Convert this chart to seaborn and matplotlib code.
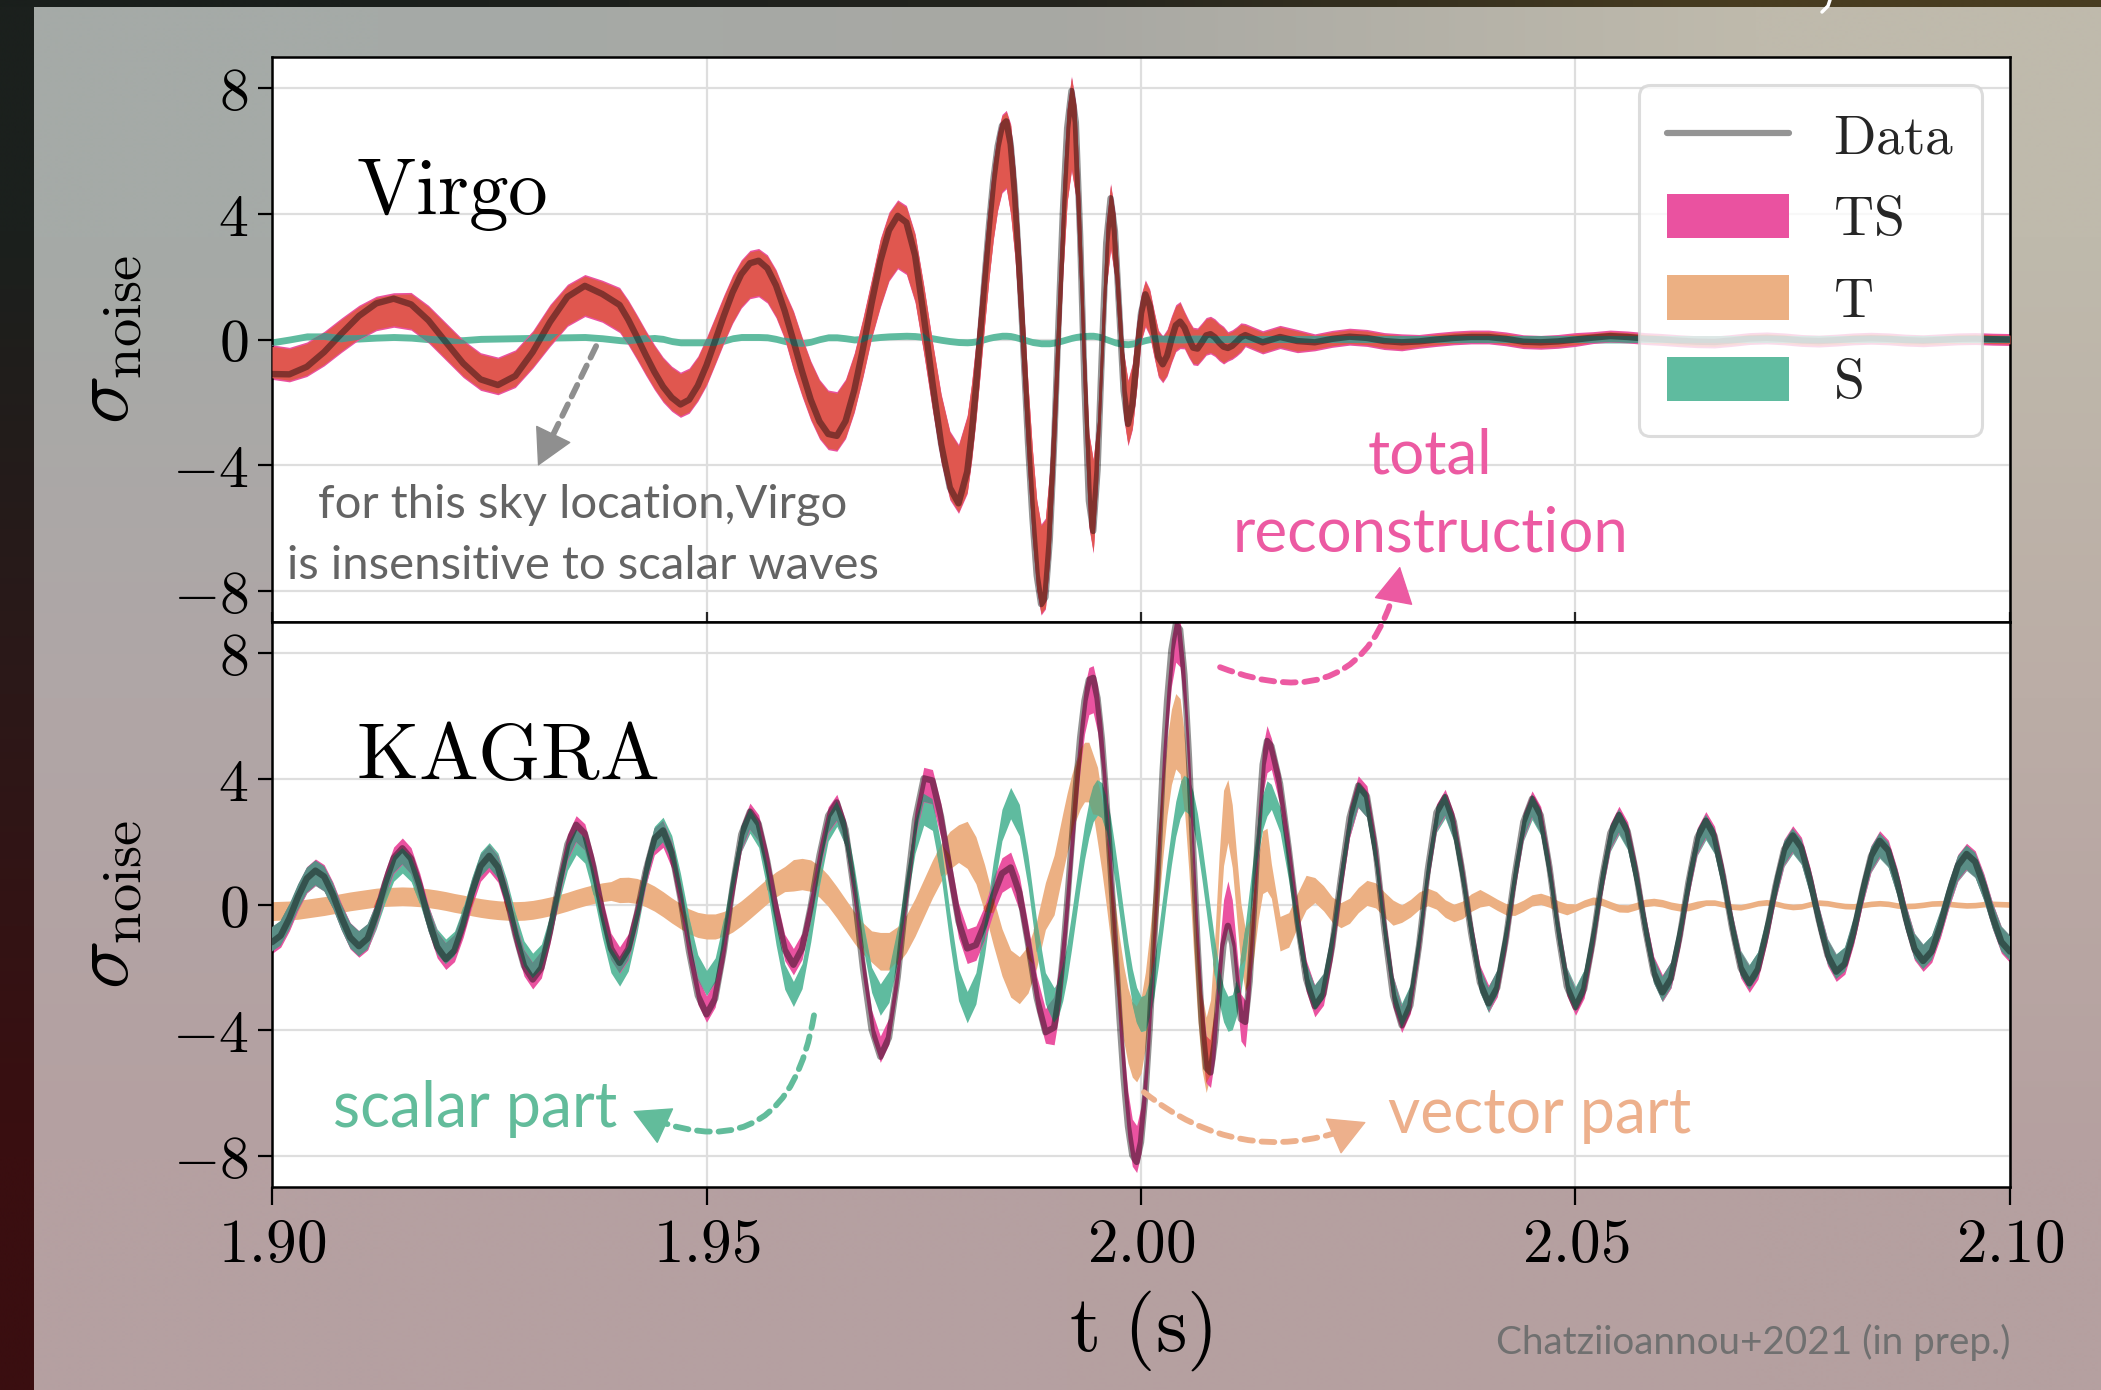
import numpy as np
import matplotlib
matplotlib.use("Agg")
import matplotlib.pyplot as plt
import seaborn as sns
from matplotlib.lines import Line2D
from matplotlib.patches import Patch

sns.set_theme(style="white")
plt.rcParams["mathtext.fontset"] = "cm"
plt.rcParams["font.family"] = ["Lato", "DejaVu Sans"]

# ------------------------------------------------------------------
# sampling times (s) of the digitised curves
t_virgo = np.round(np.concatenate([np.arange(1900, 1940, 2) / 1000,
                                   np.arange(1940, 1980) / 1000,
                                   np.arange(19800, 20120, 5) / 10000,
                                   np.arange(2012, 2101, 2) / 1000]), 4)
t_kagra = np.round(np.concatenate([np.arange(1900, 1990) / 1000,
                                   np.arange(19900, 20150, 5) / 10000,
                                   np.arange(2015, 2101) / 1000]), 4)

# ---------------- Virgo ----------------
virgo_data = [
    -1.10, -1.11, -0.87, -0.40, 0.19, 0.75, 1.15, 1.30, 1.12, 0.61,
    -0.08, -0.76, -1.27, -1.45, -1.16, -0.40, 0.56, 1.36, 1.71, 1.45,
    1.10, 0.63, 0.08, -0.49, -1.03, -1.50, -1.85, -2.07, -1.92, -1.47,
    -0.82, -0.04, 0.76, 1.50, 2.08, 2.43, 2.51, 2.27, 1.72, 0.91,
    -0.04, -1.02, -1.92, -2.61, -3.01, -3.07, -2.60, -1.62, -0.30, 1.16,
    2.49, 3.48, 3.94, 3.73, 2.68, 0.75, -1.37, -3.33, -4.72, -5.22,
    -4.21, -3.04, -1.55, 0.17, 1.94, 3.62, 5.07, 6.15, 6.81, 6.95,
    6.23, 4.62, 2.25, -0.49, -3.30, -5.65, -7.52, -8.43, -8.21, -6.39,
    -3.32, 0.46, 4.01, 6.73, 7.92, 6.92, 3.27, -1.48, -5.14, -6.10,
    -4.15, -0.43, 3.08, 4.50, 3.45, 0.91, -1.64, -2.69, -2.09, -0.63,
    0.84, 1.44, 1.08, 0.23, -0.56, -0.79, -0.52, 0.00, 0.45, 0.57,
    0.38, 0.03, -0.26, -0.29, -0.09, 0.13, 0.17, 0.07, -0.10, -0.23,
    -0.27, -0.20, -0.07, 0.07,
    0.14, -0.09, 0.08, -0.05, -0.09, 0.02, 0.09, 0.05, -0.05, -0.09,
    -0.06, 0.00, 0.05, 0.08, 0.08, 0.02, -0.07, -0.09, -0.06, 0.00,
    0.06, 0.11, 0.08, 0.03, 0.00, -0.04, -0.07, -0.08, -0.03, 0.03,
    0.05, 0.02, -0.03, -0.05, -0.02, 0.02, 0.04, 0.02, -0.02, -0.04,
    -0.01, 0.02, 0.03, 0.01, 0.00]
# centre of the TS / T credible bands (they coincide for Virgo)
virgo_tt_mid = [
    -0.72, -0.80, -0.63, -0.29, 0.14, 0.54, 0.83, 0.94, 0.90, 0.49,
    -0.06, -0.61, -1.02, -1.16, -0.93, -0.32, 0.45, 1.09, 1.40, 1.22,
    0.94, 0.54, 0.07, -0.42, -0.88, -1.28, -1.57, -1.76, -1.63, -1.25,
    -0.70, -0.03, 0.65, 1.28, 1.77, 2.07, 2.13, 1.93, 1.46, 0.77,
    -0.03, -0.87, -1.63, -2.22, -2.56, -2.61, -2.21, -1.38, -0.26, 0.99,
    2.12, 2.96, 3.35, 3.17, 2.28, 0.64, -1.16, -2.83, -4.01, -4.44,
    -3.66, -2.64, -1.35, 0.15, 1.69, 3.15, 4.41, 5.35, 5.92, 6.05,
    5.42, 4.02, 1.96, -0.43, -2.87, -4.92, -6.54, -7.33, -7.14, -5.56,
    -2.89, 0.40, 3.49, 5.86, 6.89, 6.02, 2.84, -1.29, -4.47, -5.31,
    -3.61, -0.37, 2.68, 3.92, 3.00, 0.79, -1.43, -2.34, -1.82, -0.55,
    0.67, 1.15, 0.86, 0.18, -0.45, -0.63, -0.42, 0.00, 0.36, 0.46,
    0.30, 0.02, -0.21, -0.23, -0.07, 0.10, 0.14, 0.06, -0.08, -0.18,
    -0.22, -0.16, -0.06, 0.06,
    0.14, -0.09, 0.08, -0.05, -0.09, 0.02, 0.09, 0.05, -0.05, -0.09,
    -0.06, 0.00, 0.05, 0.08, 0.08, 0.02, -0.07, -0.09, -0.06, 0.00,
    0.06, 0.11, 0.08, 0.03, 0.00, -0.04, -0.07, -0.08, -0.03, 0.03,
    0.05, 0.02, -0.03, -0.05, -0.02, 0.02, 0.04, 0.02, -0.02, -0.04,
    -0.01, 0.02, 0.03, 0.01, 0.00]
virgo_tt_hw_values = [0.50, 0.55, 0.62, 0.67, 0.72, 0.90, 1.05, 1.20, 1.40,
                      1.45, 1.00, 0.70, 0.55, 0.42, 0.32, 0.22, 0.17, 0.14]
virgo_tt_hw_counts = [8, 8, 4, 10, 10, 10, 10, 10, 10, 10, 10, 10, 10, 4, 4, 6, 10, 25]
virgo_s_mid = [
    -0.09, 0.00, 0.10, 0.10, 0.02, 0.03, 0.06, 0.08, 0.06, 0.01,
    -0.04, -0.02, 0.02, 0.03, 0.04, 0.05, 0.06, 0.07, 0.08, 0.04,
    -0.02, -0.04, -0.01, 0.03, 0.05, 0.02, -0.05, -0.09, -0.09, -0.09,
    -0.09, -0.09, -0.04, 0.04, 0.08, 0.08, 0.08, 0.07, 0.02, -0.05,
    -0.10, -0.12, -0.07, 0.01, 0.07, 0.07, 0.04, 0.00, 0.02, 0.05,
    0.08, 0.10, 0.11, 0.12, 0.11, 0.08, 0.04, -0.01, -0.05, -0.08,
    -0.09, -0.08, -0.06, -0.03, 0.01, 0.05, 0.08, 0.10, 0.12, 0.12,
    0.11, 0.08, 0.04, 0.00, -0.04, -0.08, -0.10, -0.12, -0.12, -0.12,
    -0.10, -0.07, -0.03, 0.01, 0.05, 0.08, 0.10, 0.11, 0.12, 0.12,
    0.10, 0.06, 0.01, -0.04, -0.09, -0.12, -0.14, -0.15, -0.13, -0.10,
    -0.06, -0.02, 0.01, 0.02, 0.02, 0.02, 0.01, 0.00, -0.01, -0.01,
    -0.01, 0.00, 0.01, 0.01, 0.01, 0.00, 0.00, -0.01, -0.01, 0.00,
    0.00, 0.01, 0.01, 0.00] + [0.0] * 45
virgo_s_hw = 0.11

# ---------------- KAGRA ----------------
kagra_data = [
    -1.20, -0.99, -0.44, 0.25, 0.83, 1.08, 0.89, 0.32, -0.42, -1.05,
    -1.33, -1.08, -0.31, 0.67, 1.48, 1.79, 1.46, 0.61, -0.46, -1.35,
    -1.74, -1.47, -0.66, 0.37, 1.22, 1.55, 1.19, 0.24, -0.96, -1.96,
    -2.39, -2.02, -0.86, 0.62, 1.92, 2.54, 2.26, 1.20, -0.22, -1.40,
    -1.86, -1.42, -0.29, 1.07, 2.10, 2.36, 1.66, 0.21, -1.51, -2.90,
    -3.50, -3.00, -1.46, 0.54, 2.23, 2.96, 2.57, 1.37, -0.17, -1.44,
    -1.92, -1.40, -0.06, 1.56, 2.83, 3.25, 2.39, 0.40, -2.01, -3.98,
    -4.85, -4.24, -2.31, 0.31, 2.69, 4.02, 3.95, 2.79, 1.08, -0.54,
    -1.40, -1.29, -0.62, 0.28, 0.99, 1.18, 0.38, -1.24, -2.98, -4.07,
    -3.92, -3.03, -1.67, 0.04, 1.90, 3.72, 5.32, 6.50, 7.16, 7.22,
    6.57, 5.27, 3.40, 1.20, -1.18, -3.50, -5.52, -7.07, -7.99, -8.20,
    -7.57, -6.07, -3.92, -1.29, 1.52, 4.30, 6.48, 8.11, 8.92, 8.76,
    7.31, 4.79, 1.78, -1.24, -3.76, -5.20, -5.35, -4.37, -2.73, -1.27,
    -0.68, -1.25, -2.55, -3.65, -3.74, -2.45, -0.11, 2.48, 4.46, 5.21,
    5.05, 3.85, 1.78, -0.53, -2.38, -3.24, -2.85, -1.33, 0.83, 2.77,
    3.79, 3.45, 1.74, -0.76, -2.90, -3.85, -3.21, -1.30, 1.10, 2.93,
    3.42, 2.63, 1.01, -0.92, -2.48, -3.15, -2.65, -1.09, 0.92, 2.63,
    3.37, 2.84, 1.20, -0.89, -2.61, -3.27, -2.69, -1.16, 0.74, 2.27,
    2.85, 2.33, 0.97, -0.75, -2.18, -2.80, -2.35, -1.01, 0.71, 2.13,
    2.67, 2.18, 0.88, -0.72, -2.02, -2.51, -2.06, -0.88, 0.57, 1.75,
    2.20, 1.81, 0.79, -0.50, -1.61, -2.14, -1.89, -0.91, 0.40, 1.54,
    2.03, 1.72, 0.78, -0.43, -1.42, -1.80, -1.49, -0.66, 0.37, 1.24,
    1.61, 1.36, 0.59, -0.39, -1.19, -1.50]
kagra_ts_mid = [
    -1.14, -0.94, -0.42, 0.24, 0.79, 1.03, 0.85, 0.30, -0.40, -1.00,
    -1.26, -1.03, -0.29, 0.64, 1.41, 1.70, 1.39, 0.58, -0.44, -1.28,
    -1.65, -1.40, -0.63, 0.35, 1.16, 1.47, 1.13, 0.23, -0.91, -1.86,
    -2.27, -1.92, -0.82, 0.59, 1.82, 2.41, 2.15, 1.14, -0.21, -1.33,
    -1.77, -1.35, -0.28, 1.02, 2.00, 2.24, 1.58, 0.20, -1.43, -2.76,
    -3.33, -2.85, -1.39, 0.51, 2.12, 2.81, 2.44, 1.30, -0.16, -1.37,
    -1.82, -1.33, -0.06, 1.48, 2.69, 3.09, 2.27, 0.38, -1.91, -3.78,
    -4.61, -4.03, -2.19, 0.29, 2.56, 3.82, 3.75, 2.65, 1.03, -0.51,
    -1.33, -1.23, -0.59, 0.27, 0.94, 1.12, 0.36, -1.18, -2.83, -3.87,
    -3.72, -2.88, -1.59, 0.04, 1.81, 3.53, 5.05, 6.18, 6.80, 6.86,
    6.24, 5.01, 3.23, 1.14, -1.12, -3.33, -5.24, -6.72, -7.59, -7.79,
    -7.19, -5.77, -3.72, -1.23, 1.44, 4.09, 6.16, 7.70, 8.47, 8.32,
    6.94, 4.55, 1.69, -1.18, -3.57, -4.94, -5.08, -4.15, -2.20, -0.60,
    0.00, -0.60, -2.10, -3.60, -3.80, -2.33, -0.10, 2.36, 4.24, 4.95,
    4.80, 3.66, 1.69, -0.50, -2.26, -3.08, -2.71, -1.26, 0.79, 2.63,
    3.60, 3.28, 1.65, -0.72, -2.76, -3.66, -3.05, -1.24, 1.05, 2.78,
    3.25, 2.50, 0.96, -0.87, -2.36, -2.99, -2.52, -1.04, 0.87, 2.50,
    3.20, 2.70, 1.14, -0.85, -2.48, -3.11, -2.56, -1.10, 0.70, 2.16,
    2.71, 2.21, 0.92, -0.71, -2.07, -2.66, -2.23, -0.96, 0.67, 2.02,
    2.54, 2.07, 0.84, -0.68, -1.92, -2.38, -1.96, -0.84, 0.54, 1.66,
    2.09, 1.72, 0.75, -0.48, -1.53, -2.03, -1.80, -0.86, 0.38, 1.46,
    1.93, 1.63, 0.74, -0.41, -1.35, -1.71, -1.42, -0.63, 0.35, 1.18,
    1.53, 1.29, 0.56, -0.37, -1.13, -1.43]
kagra_ts_hw_values = [0.42, 0.55, 0.75, 0.50, 0.42]
kagra_ts_hw_counts = [75, 15, 50, 15, 71]
kagra_t_mid = [
    -0.21, -0.20, -0.19, -0.17, -0.13, -0.09, -0.05, 0.00, 0.05, 0.10,
    0.14, 0.18, 0.22, 0.24, 0.25, 0.26, 0.25, 0.23, 0.20, 0.16,
    0.11, 0.05, 0.00, -0.06, -0.11, -0.15, -0.18, -0.20, -0.21, -0.20,
    -0.17, -0.12, -0.06, 0.01, 0.09, 0.18, 0.26, 0.33, 0.39, 0.43,
    0.46, 0.47, 0.43, 0.33, 0.19, 0.01, -0.19, -0.37, -0.54, -0.65,
    -0.70, -0.70, -0.62, -0.48, -0.28, -0.05, 0.19, 0.43, 0.64, 0.81,
    0.93, 0.97, 0.92, 0.73, 0.44, 0.07, -0.33, -0.73, -1.08, -1.34,
    -1.49, -1.49, -1.30, -0.93, -0.41, 0.20, 0.81, 1.34, 1.73, 1.94,
    1.90, 1.41, 0.52, -0.54, -1.52, -2.20, -2.41, -2.07, -1.26, -0.05,
    0.62, 1.29, 1.96, 2.60, 3.16, 3.63, 3.99, 4.22, 4.22, 3.82,
    3.17, 2.24, 1.18, 0.04, -1.10, -2.21, -3.14, -3.85, -4.30, -4.45,
    -4.18, -3.36, -2.13, -0.59, 1.06, 2.66, 4.04, 5.02, 5.52, 5.36,
    4.22, 2.28, -0.10, -2.33, -4.04, -4.79, -4.24, -2.22, 0.41, 2.44,
    2.98, 2.18, 0.60, -0.97, -1.78, -1.53, -0.61, 0.53, 1.35, 1.43,
    0.75, -0.93, -0.81, -0.19, 0.38, 0.46, 0.20, -0.16, -0.34, -0.20,
    0.14, 0.37, 0.29, 0.00, -0.26, -0.29, -0.12, 0.12, 0.24, 0.13,
    -0.13, -0.27, -0.17, 0.06, 0.20, 0.15, -0.01, -0.15, -0.17, -0.04,
    0.13, 0.18, 0.09, -0.06, -0.15, -0.10, 0.03, 0.12, 0.09, -0.02,
    -0.12, -0.13, -0.05, 0.05, 0.08, 0.04, -0.04, -0.09, -0.08, -0.01,
    0.06, 0.06, 0.00, -0.07, -0.09, -0.03, 0.04, 0.07, 0.03, -0.04,
    -0.08, -0.06, 0.01, 0.06, 0.04, -0.01, -0.05, -0.06, -0.02, 0.02,
    0.04, 0.02, -0.03, -0.05, -0.04, -0.01, 0.03, 0.04, 0.02, -0.01,
    -0.03, -0.02, 0.01, 0.02, 0.01, 0.00]
kagra_t_hw_values = [0.30, 0.40, 0.50, 0.60, 0.75, 0.95, 1.20, 1.00,
                     0.55, 0.40, 0.28, 0.18, 0.12, 0.09]
kagra_t_hw_counts = [40, 20, 10, 10, 10, 10, 30, 10, 5, 10, 10, 10, 15, 36]
kagra_s_mid = [
    -1.10, -0.91, -0.40, 0.24, 0.77, 1.00, 0.82, 0.29, -0.41, -0.99,
    -1.25, -1.03, -0.38, 0.45, 1.14, 1.40, 1.13, 0.43, -0.45, -1.18,
    -1.50, -1.25, -0.49, 0.47, 1.27, 1.57, 1.24, 0.40, -0.67, -1.56,
    -1.95, -1.66, -0.73, 0.45, 1.49, 1.99, 1.72, 0.70, -0.64, -1.77,
    -2.20, -1.72, -0.50, 0.98, 2.09, 2.38, 1.80, 0.60, -0.84, -2.00,
    -2.50, -2.10, -0.87, 0.73, 2.08, 2.67, 2.22, 0.86, -0.88, -2.30,
    -2.85, -2.28, -0.79, 1.01, 2.42, 2.89, 2.26, 0.81, -0.95, -2.40,
    -3.03, -2.62, -1.30, 0.49, 2.13, 3.03, 2.86, 1.39, -0.72, -2.56,
    -3.27, -2.67, -1.10, 0.87, 2.53, 3.23, 2.69, 1.06, -1.03, -2.67,
    -3.21, -3.00, -2.51, -1.79, -0.88, 0.10, 1.09, 1.99, 2.70, 3.20,
    3.41, 3.32, 2.90, 2.22, 1.28, 0.27, -0.79, -1.78, -2.61, -3.20,
    -3.49, -3.45, -3.05, -2.36, -1.40, -0.32, 0.81, 1.83, 2.73, 3.30,
    3.55, 3.45, 3.03, 2.34, 1.38, 0.35, -0.73, -1.74, -2.59, -3.18,
    -3.48, -3.43, -2.99, -2.22, -1.20, -0.03, 1.14, 2.16, 2.95, 3.38,
    3.43, 2.70, 1.15, -0.70, -2.25, -2.98, -2.62, -1.22, 0.76, 2.55,
    3.49, 3.17, 1.60, -0.70, -2.67, -3.54, -2.95, -1.20, 1.01, 2.70,
    3.15, 2.42, 0.93, -0.85, -2.40, -3.05, -2.50, -1.00, 0.85, 2.42,
    3.10, 2.61, 1.10, -0.82, -2.40, -3.01, -2.47, -1.07, 0.68, 2.09,
    2.62, 2.14, 0.89, -0.69, -2.10, -2.70, -2.25, -0.93, 0.65, 1.96,
    2.46, 2.01, 0.81, -0.66, -1.86, -2.31, -1.90, -0.81, 0.52, 1.61,
    2.02, 1.67, 0.73, -0.46, -1.48, -1.97, -1.74, -0.84, 0.37, 1.42,
    1.87, 1.58, 0.72, -0.40, -1.31, -1.66, -1.37, -0.61, 0.34, 1.14,
    1.48, 1.25, 0.54, -0.36, -1.09, -1.38]
kagra_s_hw_values = [0.40, 0.50, 0.56, 0.40]
kagra_s_hw_counts = [70, 20, 50, 86]

# axis ticks
y_ticks = [-8, -4, 0, 4, 8]
y_tick_labels = [r"$-8$", r"$-4$", r"$0$", r"$4$", r"$8$"]
x_ticks = [1.90, 1.95, 2.00, 2.05, 2.10]
x_tick_labels = [r"$1.90$", r"$1.95$", r"$2.00$", r"$2.05$", r"$2.10$"]

# ------------------------------------------------------------------
C_TS, C_T, C_S = "#EA52A0", "#ECB083", "#5FBB9F"
C_TS_T, C_T_S, C_TS_S = "#E0574F", "#74A781", "#5A8E86"

W_PX, H_PX = 2101, 1390
fig = plt.figure(figsize=(W_PX / 100, H_PX / 100), dpi=100)
fig.patch.set_facecolor("#b3a3a3")

# slide background
bg = fig.add_axes([0, 0, 1, 1], zorder=-10)
slide = np.array([[[165, 170, 167], [168, 168, 163], [191, 186, 172]],
                  [[176, 166, 166], [179, 167, 165], [187, 173, 166]],
                  [[181, 160, 161], [182, 160, 161], [181, 160, 160]]]) / 255
left_strip = np.array([[[27, 32, 29]], [[44, 24, 24]], [[58, 14, 16]]]) / 255
top_strip = np.array([[[26, 31, 28], [36, 36, 30], [72, 60, 32]]]) / 255
bg.imshow(slide, extent=(34, W_PX, H_PX, 7), interpolation="bilinear", aspect="auto")
bg.imshow(left_strip, extent=(0, 34, H_PX, 0), interpolation="bilinear", aspect="auto")
bg.imshow(top_strip, extent=(0, W_PX, 7, 0), interpolation="bilinear", aspect="auto")
# fragment of the slide title's white glyph at the very top
bg.plot([1830, 1828, 1822], [0, 6, 12], color="white", lw=2.5, solid_capstyle="round")
bg.set_xlim(0, W_PX)
bg.set_ylim(H_PX, 0)
bg.axis("off")

L, Wd, Hh = 272 / W_PX, 1738 / W_PX, 565 / H_PX
top1 = 1 - 57 / H_PX
ax1 = fig.add_axes([L, top1 - Hh, Wd, Hh])
ax2 = fig.add_axes([L, top1 - 2 * Hh, Wd, Hh], sharex=ax1)


def band(ax, t, mid, hw, color):
    mid = np.asarray(mid, float)
    lo, hi = mid - hw, mid + hw
    ax.fill_between(t, lo, hi, color=color, lw=0, zorder=2)
    return lo, hi


def overlap(ax, t, a, b, color):
    lo = np.maximum(a[0], b[0])
    hi = np.minimum(a[1], b[1])
    ax.fill_between(t, lo, hi, where=hi > lo, interpolate=True,
                    color=color, lw=0, zorder=3)


# Virgo panel
v_hw = np.repeat(virgo_tt_hw_values, virgo_tt_hw_counts)
vT = band(ax1, t_virgo, virgo_tt_mid, v_hw, C_T)
vS = band(ax1, t_virgo, virgo_s_mid, virgo_s_hw, C_S)
vTS = band(ax1, t_virgo, virgo_tt_mid, v_hw + 0.05, C_TS)
overlap(ax1, t_virgo, vTS, vT, C_TS_T)
overlap(ax1, t_virgo, vT, vS, C_T_S)
overlap(ax1, t_virgo, vTS, vS, C_TS_S)
sns.lineplot(x=t_virgo, y=virgo_data, ax=ax1, color="black", alpha=0.42,
             linewidth=4.6, sort=False, estimator=None, zorder=5)

# KAGRA panel
kT = band(ax2, t_kagra, kagra_t_mid, np.repeat(kagra_t_hw_values, kagra_t_hw_counts), C_T)
kS = band(ax2, t_kagra, kagra_s_mid, np.repeat(kagra_s_hw_values, kagra_s_hw_counts), C_S)
kTS = band(ax2, t_kagra, kagra_ts_mid, np.repeat(kagra_ts_hw_values, kagra_ts_hw_counts), C_TS)
overlap(ax2, t_kagra, kTS, kT, C_TS_T)
overlap(ax2, t_kagra, kT, kS, C_T_S)
overlap(ax2, t_kagra, kTS, kS, C_TS_S)
sns.lineplot(x=t_kagra, y=kagra_data, ax=ax2, color="black", alpha=0.42,
             linewidth=4.6, sort=False, estimator=None, zorder=5)

for ax in (ax1, ax2):
    ax.set_facecolor("white")
    ax.set_xlim(1.9, 2.1)
    ax.set_ylim(-9, 9)
    ax.set_yticks(y_ticks, labels=y_tick_labels)
    ax.grid(True, color="#dedede", lw=1.6)
    ax.set_axisbelow(True)
    for s in ax.spines.values():
        s.set_visible(True)
        s.set_color("black")
        s.set_linewidth(1.8)
    ax.tick_params(axis="y", left=True, direction="out", length=10, width=1.6,
                   pad=7, labelsize=43, colors="black")
    ax.set_ylabel(r"$\sigma_{\mathrm{noise}}$", fontsize=58, color="black")
    ax.yaxis.set_label_coords(-0.0736, 0.5)
    ax.set_xlabel("")

ax2.set_xticks(x_ticks, labels=x_tick_labels)
ax2.tick_params(axis="x", bottom=True, direction="out", length=13, width=1.6,
                pad=8, labelsize=44, colors="black")
ax1.tick_params(axis="x", bottom=True, direction="in", length=7, width=1.6,
                labelbottom=False)
ax2.set_xlabel(r"$\mathrm{t\ (s)}$", fontsize=58, color="black")
ax2.xaxis.set_label_coords(0.5, -0.179)

ax1.text(1.9097, 4.0, r"$\mathrm{Virgo}$", fontsize=57, va="baseline", ha="left", color="black")
ax2.text(1.9097, 4.0, r"$\mathrm{KAGRA}$", fontsize=57.5, va="baseline", ha="left", color="black")

handles = [Line2D([0], [0], color="black", alpha=0.42, lw=4.5),
           Patch(facecolor=C_TS, edgecolor="none"),
           Patch(facecolor=C_T, edgecolor="none"),
           Patch(facecolor=C_S, edgecolor="none")]
labels = [r"$\mathrm{Data}$", r"$\mathrm{TS}$", r"$\mathrm{T}$", r"$\mathrm{S}$"]
leg = ax1.legend(handles, labels, loc="upper right", fontsize=40, frameon=True,
                 fancybox=True, framealpha=0.8, edgecolor="#d4d4d4",
                 handlelength=2.2, handleheight=0.85, handletextpad=0.8,
                 labelspacing=0.54, borderpad=0.5, borderaxespad=0.5)
leg.get_frame().set_linewidth(2.2)
leg.set_zorder(20)

# annotations
gill = dict(family=["Lato", "DejaVu Sans"], fontweight="normal")
ax1.text(1.9358, -5.69, "for this sky location,Virgo", ha="center", va="baseline",
         fontsize=34, color="#646464", **gill)
ax1.text(1.9358, -7.63, "is insensitive to scalar waves", ha="center", va="baseline",
         fontsize=34, color="#646464", **gill)
ax1.text(2.03326, -4.26, "total", ha="center", va="baseline", fontsize=44.5,
         color="#EC5AA2", **gill)
ax1.text(2.03326, -6.74, "reconstruction", ha="center", va="baseline", fontsize=44.5,
         color="#EC5AA2", **gill)
ax2.text(1.90702, -7.09, "scalar part", ha="left", va="baseline", fontsize=45,
         color="#62BC9B", **gill)
ax2.text(2.02842, -7.28, "vector part", ha="left", va="baseline", fontsize=45,
         color="#EDB08C", **gill)
fig.text(2010 / W_PX, 1 - 1354 / H_PX, "Chatziioannou+2021 (in prep.)", ha="right",
         va="baseline", fontsize=27.8, color="#707070", **gill)


def dashed_arrow(ax, tail, head, rad, color):
    # dashed curved shaft
    ax.annotate("", xy=head, xytext=tail, annotation_clip=False,
                arrowprops=dict(arrowstyle="-", color=color, lw=4.2,
                                linestyle=(0, (2.2, 1.5)), shrinkA=0, shrinkB=14,
                                connectionstyle=f"arc3,rad={rad}"), zorder=8)
    # solid head, aligned with the arc's end tangent
    p1 = np.asarray(ax.transData.transform(tail))
    p2 = np.asarray(ax.transData.transform(head))
    d = p2 - p1
    ctrl = (p1 + p2) / 2 + rad * np.array([d[1], -d[0]])
    u = (p2 - ctrl) / np.hypot(*(p2 - ctrl))
    ax.annotate("", xy=head, xytext=tuple(-u * 30), textcoords="offset pixels",
                annotation_clip=False,
                arrowprops=dict(arrowstyle="-|>,head_length=0.55,head_width=0.3",
                                color=color, lw=1, shrinkA=0, shrinkB=0,
                                mutation_scale=44), zorder=8)


dashed_arrow(ax1, (1.9373, -0.21), (1.9306, -4.03), 0.0, "#8f8f8f")
dashed_arrow(ax2, (2.0091, 7.56), (2.0298, 10.77), 0.6, "#EC5AA2")
dashed_arrow(ax2, (1.96237, -3.53), (1.94154, -6.58), -0.65, "#62BC9B")
dashed_arrow(ax2, (2.00034, -5.98), (2.02589, -6.93), 0.3, "#EDB08C")

fig.savefig("out.png", dpi=100)
